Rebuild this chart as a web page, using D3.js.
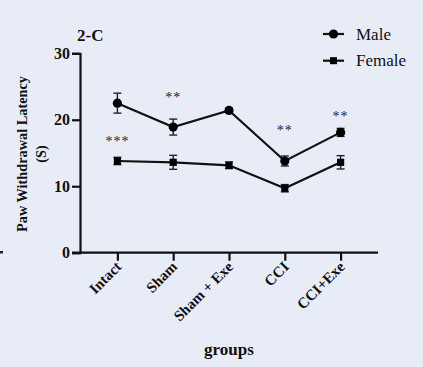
<!DOCTYPE html>
<html>
<head>
<meta charset="utf-8">
<script src="https://cdn.jsdelivr.net/npm/d3@7"></script>
<style>
  html, body { margin: 0; padding: 0; background: #e8ecf7; }
  svg { display: block; }
  text { font-family: "Liberation Serif", "Times New Roman", serif; fill: #111; }
</style>
</head>
<body>
<div id="chart"></div>
<script>
let width_chart = 423;
let height_chart = 367;

// groupes et valeurs
var groups = ["Intact", "Sham", "Sham + Exe", "CCI", "CCI+Exe"];
var maleMean = [22.5, 18.9, 21.4, 13.8, 18.1];
var maleErr = [1.5, 1.2, 0.35, 0.75, 0.6];
var femaleMean = [13.8, 13.6, 13.15, 9.7, 13.6];
var femaleErr = [0.55, 1.05, 0.5, 0.55, 1.0];
var starLabels = ["***", "**", "", "**", "**"];
var starLevel = [17.1, 23.7, null, 18.7, 20.8];
var yTicks = [0, 10, 20, 30];

var svg = d3.select('#chart').append('svg')
    .attr('width', width_chart)
    .attr('height', height_chart);

var x = d3.scalePoint().domain(groups).range([80, 378]).padding(0.67);
var y = d3.scaleLinear().domain([0, 30]).range([252.7, 53.3]);

// axes
var yAxis = svg.append("g")
    .attr("transform", "translate(80,0)")
    .call(d3.axisLeft(y).tickValues(yTicks).tickSize(8).tickPadding(2));
var xAxis = svg.append("g")
    .attr("transform", "translate(0," + y(0) + ")")
    .call(d3.axisBottom(x).tickSize(8).tickFormat(""));

[yAxis, xAxis].forEach(function(a) {
  a.select(".domain").attr("stroke", "#111").attr("stroke-width", 2.2);
  a.selectAll(".tick line").attr("stroke", "#111").attr("stroke-width", 2.2);
});
xAxis.select(".domain").attr("d", "M72,0H378");
yAxis.selectAll(".tick text")
    .attr("font-family", "Liberation Serif, serif")
    .attr("font-weight", "bold")
    .attr("font-size", 16)
    .attr("fill", "#111");

// labels des groupes, tournés de 45 degrés
svg.append("g").selectAll("text")
    .data(groups)
    .enter().append("text")
    .attr("transform", function(d) { return "translate(" + (x(d) + 5) + "," + (y(0) + 15) + ") rotate(-45)"; })
    .attr("text-anchor", "end")
    .attr("font-weight", "bold")
    .attr("font-size", 15)
    .text(function(d) { return d; });

// titres
svg.append("text").attr("x", 77).attr("y", 41)
    .attr("font-weight", "bold").attr("font-size", 17).text("2-C");
svg.append("text").attr("x", 229).attr("y", 355)
    .attr("text-anchor", "middle").attr("font-weight", "bold").attr("font-size", 17).text("groups");
var ylab = svg.append("text")
    .attr("transform", "translate(27,154) rotate(-90)")
    .attr("text-anchor", "middle")
    .attr("font-weight", "bold")
    .attr("font-size", 14.3);
ylab.append("tspan").attr("x", 0).attr("y", 0).text("Paw Withdrawal Latency");
ylab.append("tspan").attr("x", 0).attr("y", 19).text("(S)");

// petit trait parasite à gauche
svg.append("rect").attr("x", 0).attr("y", 251).attr("width", 3).attr("height", 2.5).attr("fill", "#222");

var line = d3.line()
    .x(function(d, i) { return x(groups[i]); })
    .y(function(d) { return y(d); });

function drawSeries(means, errs, shape) {
  var g = svg.append("g");
  g.append("path")
      .attr("d", line(means))
      .attr("fill", "none")
      .attr("stroke", "#111")
      .attr("stroke-width", 2.2);
  var eb = g.selectAll("g.err")
      .data(means)
      .enter().append("g")
      .attr("stroke", "#222")
      .attr("stroke-width", 1.4);
  eb.append("line")
      .attr("x1", function(d, i) { return x(groups[i]); })
      .attr("x2", function(d, i) { return x(groups[i]); })
      .attr("y1", function(d, i) { return y(d + errs[i]); })
      .attr("y2", function(d, i) { return y(d - errs[i]); });
  [1, -1].forEach(function(s) {
    eb.append("line")
        .attr("x1", function(d, i) { return x(groups[i]) - 4; })
        .attr("x2", function(d, i) { return x(groups[i]) + 4; })
        .attr("y1", function(d, i) { return y(d + s * errs[i]); })
        .attr("y2", function(d, i) { return y(d + s * errs[i]); });
  });
  if (shape === "circle") {
    g.selectAll("circle").data(means).enter().append("circle")
        .attr("cx", function(d, i) { return x(groups[i]); })
        .attr("cy", function(d) { return y(d); })
        .attr("r", 4.6)
        .attr("fill", "#000");
  } else {
    g.selectAll("rect.m").data(means).enter().append("rect")
        .attr("x", function(d, i) { return x(groups[i]) - 3.6; })
        .attr("y", function(d) { return y(d) - 3.6; })
        .attr("width", 7.2)
        .attr("height", 7.2)
        .attr("fill", "#000");
  }
}

drawSeries(maleMean, maleErr, "circle");
drawSeries(femaleMean, femaleErr, "square");

// étoiles de significativité
svg.append("g").attr("opacity", 0.99).selectAll("text")
    .data(groups.filter(function(g, i) { return starLabels[i] !== ""; }))
    .enter().append("text")
    .attr("x", function(d) { return x(d); })
    .attr("y", function(d) { return y(starLevel[groups.indexOf(d)]) + 7; })
    .attr("text-anchor", "middle")
    .attr("font-size", 14)
    .attr("letter-spacing", 1)
    .style("fill", "#222")
    .text(function(d) { return starLabels[groups.indexOf(d)]; });

// légende
var legend = svg.append("g");
var legItems = [{name: "Male", shape: "circle"}, {name: "Female", shape: "square"}];
var leg = legend.selectAll("g")
    .data(legItems)
    .enter().append("g")
    .attr("transform", function(d, i) { return "translate(0," + (34 + i * 26.7) + ")"; });
leg.append("line").attr("x1", 323).attr("x2", 344).attr("stroke", "#111").attr("stroke-width", 2.2);
leg.filter(function(d) { return d.shape === "circle"; })
    .append("circle").attr("cx", 333.5).attr("r", 4.6).attr("fill", "#000");
leg.filter(function(d) { return d.shape === "square"; })
    .append("rect").attr("x", 330).attr("y", -3.5).attr("width", 7).attr("height", 7).attr("fill", "#000");
leg.append("text")
    .attr("x", 356)
    .attr("y", 5.5)
    .attr("font-size", 17)
    .text(function(d) { return d.name; });
</script>
</body>
</html>
